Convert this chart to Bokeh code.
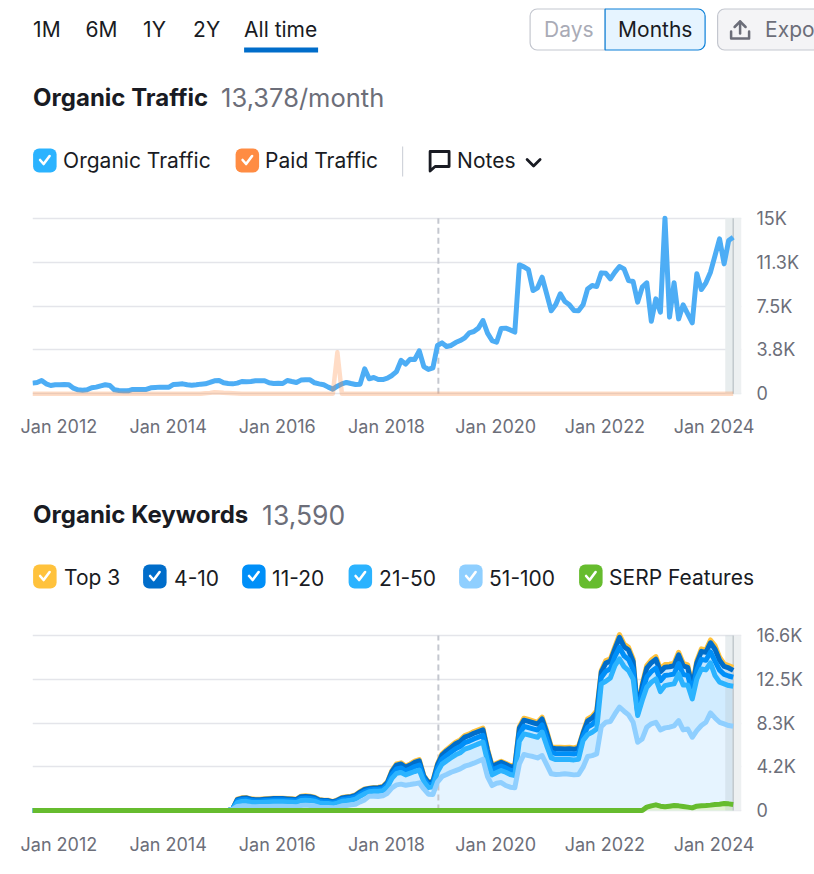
from bokeh.embed import file_html
from bokeh.resources import INLINE
from bokeh.plotting import figure
from bokeh.models import Range1d, FixedTicker, BoxAnnotation
from bokeh.core.properties import value

FONT = "Inter"
INK = "#191b23"
GREY = "#6c6e79"
GRID = "#e4e5ea"

MONTHS = list(range(155))
X_TICKS = [5.8, 29.8, 53.8, 77.8, 101.8, 125.8, 149.8]
X_LABELS = ["Jan 2012", "Jan 2014", "Jan 2016", "Jan 2018", "Jan 2020", "Jan 2022", "Jan 2024"]
NOTE_MONTH = 89.2

TRAFFIC_TICKS = [0, 3750, 7500, 11250, 15000]
TRAFFIC_LABELS = ["0", "3.8K", "7.5K", "11.3K", "15K"]
KEYWORD_TICKS = [0, 4150, 8300, 12450, 16600]
KEYWORD_LABELS = ["0", "4.2K", "8.3K", "12.5K", "16.6K"]

ORGANIC = [
    910, 970, 1140, 850, 710, 770, 770, 800, 770, 480, 340, 310, 340, 510, 570, 680, 770, 710, 340, 285,
    255, 255, 370, 370, 370, 370, 510, 540, 570, 570, 570, 800, 825, 850, 770, 740, 770, 825, 850, 970,
    1110, 1140, 940, 880, 850, 910, 1050, 1025, 1050, 1110, 1110, 1110, 940, 880, 910, 880, 1140, 1050, 970, 1170,
    1195, 1195, 940, 850, 770, 570, 400, 650, 850, 970, 880, 800, 825, 2130, 1280, 1390, 1220, 1220, 1340, 1565,
    1900, 2850, 2530, 2960, 2930, 3670, 2330, 2080, 2220, 4130, 4350, 4040, 4130, 4380, 4550, 4780, 5210, 5320, 5610, 6260,
    5180, 4550, 4410, 5580, 5610, 5460, 5270, 11010, 10840, 10600, 8820, 9050, 9960, 8540, 7090, 7630, 8540, 7880, 7600, 7110,
    7090, 7600, 8960, 9250, 9160, 10330, 10300, 9820, 10390, 10870, 10670, 9680, 9590, 7830, 9110, 9480, 6200, 8110, 6970, 15000,
    6550, 9480, 6400, 7600, 6830, 6060, 10250, 8910, 9480, 10390, 11810, 13230, 11100, 13090, 13380,
]
PAID = [
    0, 0, 0, 0, 0, 0, 0, 0, 0, 0, 0, 0, 0, 0, 0, 0, 0, 0, 0, 0,
    0, 0, 0, 0, 0, 0, 0, 0, 0, 0, 0, 0, 0, 0, 0, 0, 0, 0, 40, 80,
    140, 120, 90, 70, 50, 30, 10, 0, 0, 0, 0, 0, 0, 0, 0, 0, 0, 0, 0, 0,
    0, 0, 0, 0, 0, 0, 0, 3550, 0, 0, 0, 0, 0, 0, 0, 0, 0, 0, 0, 0,
    0, 0, 0, 0, 0, 0, 0, 0, 0, 0, 0, 0, 0, 0, 0, 0, 0, 0, 0, 0,
    0, 0, 0, 0, 0, 0, 0, 0, 0, 0, 0, 0, 0, 0, 0, 0, 0, 0, 0, 0,
    0, 0, 0, 0, 0, 0, 0, 0, 0, 0, 0, 0, 0, 0, 0, 0, 0, 0, 0, 0,
    0, 0, 0, 0, 0, 0, 0, 0, 0, 0, 0, 0, 0, 0, 0,
]

# Keyword counts start in month 44; earlier months are zero.
EMPTY = [0] * 44
R51_100 = EMPTY + [
    130, 380, 440, 440, 380, 350, 380, 380, 380, 410, 410, 410, 380, 380, 350, 470, 510, 470, 440, 320,
    280, 280, 250, 320, 440, 470, 540, 600, 820, 1010, 1360, 1360, 1330, 1390, 1640, 2150, 2430, 2500, 2400, 2460,
    2530, 2620, 2050, 1550, 1520, 2690, 3220, 3410, 3630, 3790, 3950, 4200, 4330, 4490, 4680, 4870, 3220, 2370, 2590, 2650,
    2370, 2210, 2150, 4420, 5310, 5210, 5120, 4990, 5210, 4360, 3480, 3410, 3440, 3480, 3440, 3380, 3410, 4110, 5120, 5210,
    5370, 7960, 8370, 8440, 9160, 9800, 9420, 9070, 8370, 6480, 6790, 7900, 8220, 8370, 7650, 7840, 7900, 8030, 8530, 7650,
    7740, 6950, 7580, 8060, 8370, 9260, 8780, 8370, 8220, 8060, 7990,
]
R21_50 = EMPTY + [
    20, 370, 410, 430, 400, 400, 380, 400, 420, 410, 410, 410, 420, 400, 400, 480, 470, 480, 450, 400,
    390, 390, 340, 380, 430, 450, 440, 480, 540, 570, 420, 460, 490, 490, 590, 900, 1090, 1100, 980, 1080,
    1170, 1220, 690, 620, 730, 950, 1180, 1300, 1370, 1490, 1530, 1620, 1630, 1650, 1640, 1630, 1440, 1010, 1020, 1140,
    1260, 1200, 1170, 2150, 1960, 1960, 1930, 1960, 2220, 1800, 1510, 1420, 1390, 1350, 1390, 1420, 1460, 2530, 2080, 2220,
    2370, 4050, 3890, 4140, 4590, 4580, 4230, 4200, 4110, 2530, 3640, 3790, 3950, 4110, 3630, 4010, 4040, 3980, 4430, 4260,
    4170, 3640, 4900, 5370, 4970, 4740, 4020, 3800, 3790, 3790, 3800,
]
R11_20 = EMPTY + [
    5, 150, 170, 170, 160, 150, 150, 160, 160, 170, 170, 170, 160, 160, 150, 200, 200, 200, 180, 150,
    150, 150, 125, 150, 170, 180, 180, 200, 210, 225, 160, 170, 190, 190, 235, 355, 430, 440, 390, 420,
    470, 475, 280, 250, 285, 375, 465, 515, 540, 575, 585, 620, 630, 650, 640, 630, 570, 430, 420, 430,
    410, 410, 455, 670, 710, 700, 695, 680, 680, 680, 520, 560, 560, 550, 560, 550, 575, 380, 715, 725,
    835, 605, 940, 865, 865, 1100, 1030, 1060, 910, 225, 760, 990, 1010, 1020, 1030, 955, 925, 940, 985, 990,
    910, 605, 835, 910, 905, 1045, 1360, 1140, 905, 910, 850,
]
R4_10 = EMPTY + [
    4, 130, 140, 150, 130, 130, 120, 130, 140, 140, 140, 140, 140, 130, 130, 160, 160, 160, 150, 130,
    120, 120, 105, 120, 150, 150, 150, 160, 180, 190, 140, 150, 155, 160, 195, 295, 360, 370, 330, 350,
    390, 395, 230, 210, 235, 310, 390, 430, 450, 480, 490, 515, 525, 540, 530, 525, 475, 355, 350, 355,
    345, 345, 380, 555, 590, 585, 580, 570, 570, 570, 430, 470, 470, 455, 470, 455, 480, 315, 595, 605,
    695, 505, 785, 720, 720, 950, 860, 885, 760, 190, 630, 825, 845, 850, 860, 795, 770, 785, 820, 825,
    760, 505, 695, 760, 755, 870, 1140, 945, 755, 760, 650,
]
TOP3 = EMPTY + [
    1, 40, 40, 40, 40, 40, 40, 40, 40, 40, 40, 40, 40, 40, 40, 50, 50, 50, 40, 40,
    40, 40, 30, 40, 40, 50, 50, 50, 50, 55, 40, 40, 45, 50, 60, 90, 110, 110, 100, 110,
    120, 120, 70, 60, 70, 95, 115, 125, 140, 145, 145, 155, 155, 160, 160, 155, 145, 105, 110, 105,
    105, 105, 115, 165, 180, 175, 175, 170, 170, 170, 130, 140, 140, 135, 140, 135, 145, 95, 180, 180,
    210, 150, 235, 215, 215, 250, 260, 265, 230, 55, 190, 245, 255, 250, 260, 240, 235, 235, 245, 245,
    230, 150, 210, 230, 230, 265, 340, 285, 230, 230, 300,
]
SERP = [0] * 135 + [
    320, 440, 540, 410, 350, 410, 470, 440, 380, 320, 250, 410, 440, 470, 510, 570, 600, 660, 630, 570,
]

TABS = ["1M", "6M", "1Y", "2Y", "All time"]
TRAFFIC_TITLE, TRAFFIC_VALUE = "Organic Traffic", "13,378/month"
KEYWORD_TITLE, KEYWORD_VALUE = "Organic Keywords", "13,590"
TRAFFIC_LEGEND = ["Organic Traffic", "Paid Traffic"]
KEYWORD_LEGEND = ["Top 3", "4-10", "11-20", "21-50", "51-100", "SERP Features"]

C_ORGANIC, C_PAID = "#2bb3ff", "#ff8c43"
C_LINE = "#4dadf5"
C_TOP3, C_4, C_11, C_21, C_51, C_SERP = "#ffc23c", "#006dca", "#008ff8", "#2bb3ff", "#8fcfff", "#66bc2e"


def chrome(y_top, y_bottom):
    p = figure(width=814, height=y_bottom - y_top, output_backend="svg", toolbar_location=None,
               x_range=Range1d(0.4, 814.4), y_range=Range1d(y_bottom, y_top),
               x_axis_location=None, y_axis_location=None,
               min_border=0, min_border_left=0, min_border_right=0, min_border_top=0, min_border_bottom=0,
               outline_line_color=None, tools="")
    p.grid.visible = False
    return p


def label(p, x, y, txt, size=21, color=INK, bold=False):
    p.text(x=[x], y=[y - 1], text=[txt], text_font=value(FONT), text_font_size=f"{size}px",
           text_font_style="bold" if bold else "normal", text_color=color,
           text_baseline="middle", text_align="left", level="overlay")


def box(p, l, r, t, b, fill, line=None, radius=5):
    p.add_layout(BoxAnnotation(left=l, right=r, top=t, bottom=b, fill_color=fill, fill_alpha=1,
                               line_color=line, line_alpha=1 if line else 0, line_width=1.2,
                               border_radius=radius, level="underlay"))


def path(p, xs, ys, color, width=2.5):
    p.line(xs, ys, line_color=color, line_width=width, line_cap="round", line_join="round", level="overlay")


def checkbox(p, x, yc, fill):
    box(p, x, x + 23.5, yc - 12, yc + 12, fill, radius=6)
    path(p, [x + 7, x + 10.5, x + 16.5], [yc - 0.5, yc + 3.5, yc - 4.5], "white", 2.6)


def base_chart(height, frame_h, y_start, y_end, ticks, labels):
    p = figure(width=814, height=height, output_backend="svg", toolbar_location=None, tools="",
               x_range=Range1d(0, 155.82), y_range=Range1d(y_start, y_end),
               y_axis_location="right", min_border_left=32, min_border_right=73, min_border_top=20,
               min_border_bottom=height - frame_h - 20, outline_line_color=None)
    p.xaxis.ticker = FixedTicker(ticks=X_TICKS)
    p.xaxis.major_label_overrides = dict(zip(X_TICKS, X_LABELS))
    p.yaxis.ticker = FixedTicker(ticks=ticks)
    p.yaxis.major_label_overrides = dict(zip(ticks, labels))
    for ax in (p.xaxis, p.yaxis):
        ax.axis_line_color = None
        ax.major_tick_line_color = None
        ax.minor_tick_line_color = None
        ax.major_label_text_font = FONT
        ax.major_label_text_font_size = "18px"
        ax.major_label_text_color = GREY
    p.yaxis.major_label_standoff = 9
    p.xaxis.major_label_standoff = 12
    p.xgrid.visible = False
    p.ygrid.ticker = FixedTicker(ticks=ticks)
    p.ygrid.grid_line_color = GRID
    p.ygrid.grid_line_width = 1.6
    return p


def band(p, top, tint=None):
    p.quad(left=[154], right=[155.82], top=[top], bottom=[0], fill_color="#edf0f1", line_color=None)
    if tint:
        p.quad(left=[152.25], right=[154], top=[top], bottom=[0], fill_color="#b9c6cc", fill_alpha=0.32, line_color=None)
    else:
        p.quad(left=[152.25], right=[154], top=[top], bottom=[0], fill_color="#e8edee", line_color=None)
    p.segment(x0=[154], x1=[154], y0=[0], y1=[top], line_color="#c2c9cd", line_width=1.5)


def note_line(p, top):
    p.segment(x0=[NOTE_MONTH], x1=[NOTE_MONTH], y0=[0], y1=[top], line_color="#c4c7cf", line_width=2, line_dash="6 4")


# ---------- header ----------
h1 = chrome(0, 190)
for x, t in zip([33, 85.5, 143, 193, 244], TABS):
    label(h1, x, 30, t)
box(h1, 244, 318, 47, 52, "#006dca", radius=0)
box(h1, 530, 605, 8.5, 49.5, "white", "#c4c7cf", radius=(7, 0, 0, 7))
box(h1, 605, 705, 8.5, 49.5, "#e6f4ff", "#0a7fd8", radius=(0, 7, 7, 0))
label(h1, 544, 30, "Days", color="#a9abb6")
label(h1, 618, 30, "Months")
box(h1, 717.5, 840, 8.5, 49.5, "#f4f4f6", "#c4c7cf", radius=7)
label(h1, 765, 30, "Expo", color=GREY)
path(h1, [740, 740], [33, 21], GREY, 2.5)
path(h1, [734.5, 740, 745.5], [26.5, 21, 26.5], GREY, 2.5)
path(h1, [731, 731, 749, 749], [31, 38, 38, 31], GREY, 2.5)
label(h1, 33, 98, TRAFFIC_TITLE, size=24, bold=True)
label(h1, 221, 98, TRAFFIC_VALUE, size=25.5, color=GREY)
checkbox(h1, 33, 160, C_ORGANIC)
label(h1, 63, 161, TRAFFIC_LEGEND[0])
checkbox(h1, 235.5, 160, C_PAID)
label(h1, 265, 161, TRAFFIC_LEGEND[1])
h1.segment(x0=[402.5], x1=[402.5], y0=[146], y1=[176], line_color="#d1d4db", line_width=1.2)
path(h1, [430, 449, 449, 435, 430, 430], [151, 151, 166, 166, 170.5, 151], INK, 2.8)
label(h1, 457, 161, "Notes")
path(h1, [527, 533.5, 540], [159, 165.5, 159], INK, 2.8)

# ---------- traffic chart ----------
c1 = base_chart(255, 187, -316, 15658, TRAFFIC_TICKS, TRAFFIC_LABELS)
band(c1, 15000)
note_line(c1, 15000)
c1.line(MONTHS, ORGANIC, line_color=C_LINE, line_width=5, line_join="round")
c1.line(MONTHS, PAID, line_color=C_PAID, line_alpha=0.3, line_width=4.5, line_join="round")

# ---------- keyword header ----------
h2 = chrome(445, 607)
label(h2, 33, 515, KEYWORD_TITLE, size=24, bold=True)
label(h2, 262, 515, KEYWORD_VALUE, size=26.5, color=GREY)
for bx, tx, t, c in zip([33, 143, 242, 348.5, 459, 579], [64, 174, 272, 379, 489, 609], KEYWORD_LEGEND,
                        [C_TOP3, C_4, C_11, C_21, C_51, C_SERP]):
    checkbox(h2, bx, 576, c)
    label(h2, tx, 578, t)

# ---------- keyword chart ----------
c2 = base_chart(267, 188, -474, 17360, KEYWORD_TICKS, KEYWORD_LABELS)
c51, c21, c11, c4, ctop = [], [], [], [], []
for a, b, c, d, e in zip(R51_100, R21_50, R11_20, R4_10, TOP3):
    c51.append(a)
    c21.append(a + b)
    c11.append(a + b + c)
    c4.append(a + b + c + d)
    ctop.append(a + b + c + d + e)
ZERO = [0] * len(MONTHS)
c2.varea(MONTHS, ZERO, c51, fill_color="#e6f4ff")
c2.varea(MONTHS, c51, c21, fill_color="#d1ecff")
c2.varea(MONTHS, c21, ctop, fill_color="#c4e6ff")
c2.varea(MONTHS, ZERO, SERP, fill_color="#e0f2d0")
band(c2, 16600, tint=True)
note_line(c2, 16600)
for ys, col in [(ctop, C_TOP3), (c4, C_4), (c11, C_11), (c21, C_21), (c51, C_51)]:
    c2.line(MONTHS, ys, line_color=col, line_width=5, line_join="round")
c2.line(MONTHS, SERP, line_color=C_SERP, line_width=5, line_join="round")

open("out.html", "w").write(file_html([h1, c1, h2, c2], INLINE))
